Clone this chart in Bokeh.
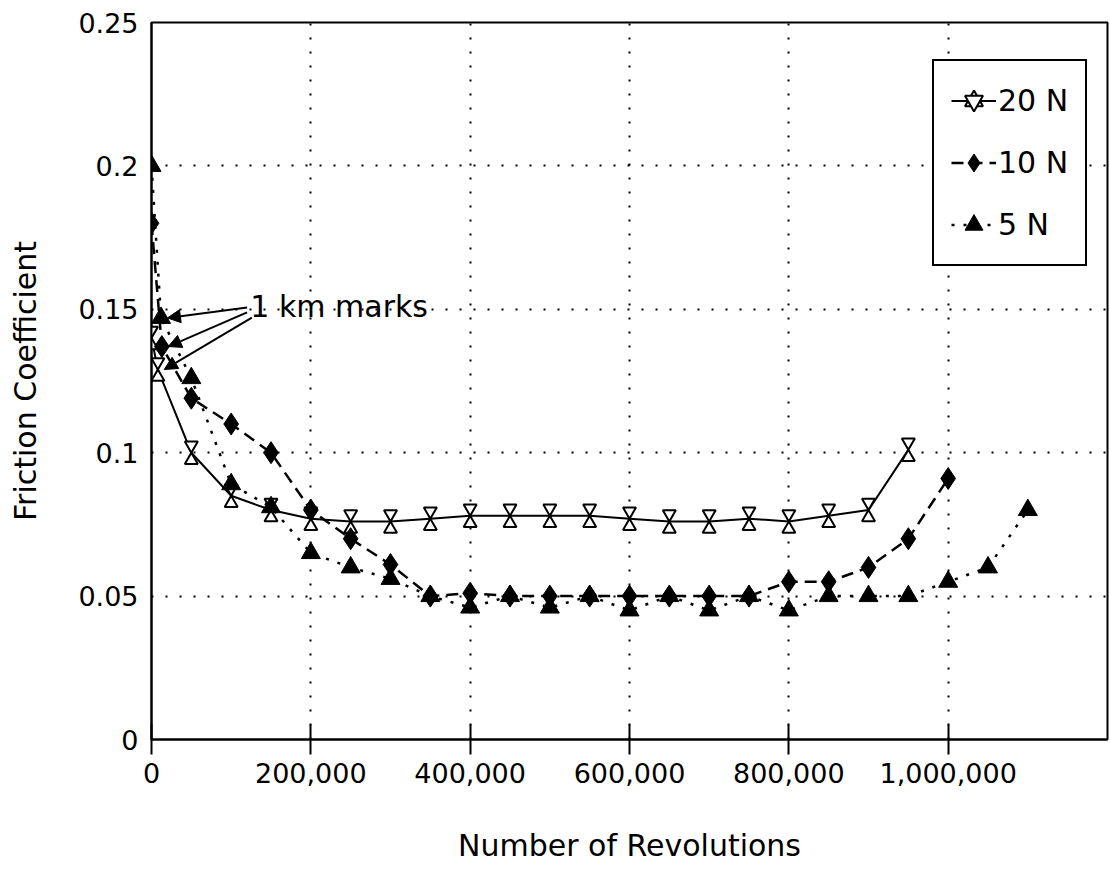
import math
from bokeh.plotting import figure
from bokeh.models import (FixedTicker, Legend, LegendItem, Label, Arrow, NormalHead,
                          ColumnDataSource, Range1d)
from bokeh.transform import dodge
from bokeh.embed import file_html
from bokeh.resources import INLINE

# ---------------- data ----------------
x_20n = [0, 8000, 50000, 100000, 150000, 200000, 250000, 300000, 350000, 400000, 450000,
         500000, 550000, 600000, 650000, 700000, 750000, 800000, 850000, 900000, 950000]
y_20n = [0.140, 0.129, 0.100, 0.085, 0.080, 0.077, 0.076, 0.076, 0.077, 0.078, 0.078,
         0.078, 0.078, 0.077, 0.076, 0.076, 0.077, 0.076, 0.078, 0.080, 0.101]

x_10n = [0, 13000, 50000, 100000, 150000, 200000, 250000, 300000, 350000, 400000, 450000,
         500000, 550000, 600000, 650000, 700000, 750000, 800000, 850000, 900000, 950000, 1000000]
y_10n = [0.180, 0.137, 0.119, 0.110, 0.100, 0.080, 0.070, 0.061, 0.050, 0.051, 0.050,
         0.050, 0.050, 0.050, 0.050, 0.050, 0.050, 0.055, 0.055, 0.060, 0.070, 0.091]

x_5n = [0, 12000, 50000, 100000, 150000, 200000, 250000, 300000, 350000, 400000, 450000,
        500000, 550000, 600000, 650000, 700000, 750000, 800000, 850000, 900000, 950000,
        1000000, 1050000, 1100000]
y_5n = [0.200, 0.147, 0.126, 0.089, 0.081, 0.065, 0.060, 0.056, 0.050, 0.046, 0.050,
        0.046, 0.050, 0.045, 0.050, 0.045, 0.050, 0.045, 0.050, 0.050, 0.050,
        0.055, 0.060, 0.080]

series_labels = ["20 N", "10 N", "5 N"]

x_ticks = [0, 200000, 400000, 600000, 800000, 1000000]
x_tick_labels = ["0", "200,000", "400,000", "600,000", "800,000", "1,000,000"]
y_ticks = [0, 0.05, 0.1, 0.15, 0.2, 0.25]
y_tick_labels = ["0", "0.05", "0.1", "0.15", "0.2", "0.25"]

x_title = "Number of Revolutions"
y_title = "Friction Coefficient"

km_label = "1 km marks"
km_label_x = 124000
km_label_y = 0.151
km_arrow_start_x = [120000, 120000, 126000]
km_arrow_start_y = [0.1506, 0.1489, 0.1471]
km_arrow_gap = 8000

# ---------------- figure ----------------
FONT = "DejaVu Sans"
W, H = 1110, 886
B_LEFT, B_RIGHT, B_TOP, B_BOTTOM = 151, 3, 22, 147
X_MAX, Y_MAX = 1200000, 0.25

p = figure(width=W, height=H, x_range=Range1d(0, X_MAX), y_range=Range1d(0, Y_MAX),
           output_backend="svg", toolbar_location=None,
           min_border_left=B_LEFT, min_border_right=B_RIGHT,
           min_border_top=B_TOP, min_border_bottom=B_BOTTOM)
p.background_fill_color = "white"
p.border_fill_color = "white"
p.outline_line_color = "black"
p.outline_line_width = 2
p.outline_line_alpha = 1.0

# axes
p.xaxis.ticker = FixedTicker(ticks=x_ticks)
p.xaxis.major_label_overrides = dict(zip(x_ticks, x_tick_labels))
p.yaxis.ticker = FixedTicker(ticks=y_ticks)
p.yaxis.major_label_overrides = dict(zip(y_ticks, y_tick_labels))
p.xaxis.axis_label = x_title
p.yaxis.axis_label = y_title

for ax in (p.xaxis[0], p.yaxis[0]):
    ax.axis_line_color = "black"
    ax.axis_line_width = 2
    ax.major_label_text_font = FONT
    ax.major_label_text_font_size = "27px"
    ax.major_label_text_color = "black"
    ax.axis_label_text_font = FONT
    ax.axis_label_text_font_size = "30px"
    ax.axis_label_text_font_style = "normal"
    ax.axis_label_text_color = "black"
    ax.minor_tick_line_color = None

p.xaxis.major_tick_in = 15
p.xaxis.major_tick_out = 15
p.xaxis.major_tick_line_width = 2
p.xaxis.major_tick_line_color = "black"
p.xaxis.major_label_standoff = 8
p.xaxis.axis_label_standoff = 42

p.yaxis.major_tick_in = 0
p.yaxis.major_tick_out = 0
p.yaxis.major_tick_line_color = None
p.yaxis.major_label_standoff = 13
p.yaxis.axis_label_standoff = 32

for g in (p.xgrid[0], p.ygrid[0]):
    g.grid_line_color = "black"
    g.grid_line_dash = "2 12"
    g.grid_line_width = 2

# ---------------- series ----------------
src20 = ColumnDataSource(dict(x=x_20n, y=y_20n))
src10 = ColumnDataSource(dict(x=x_10n, y=y_10n))
src5 = ColumnDataSource(dict(x=x_5n, y=y_5n))

l20 = p.line("x", "y", source=src20, line_color="black", line_width=2)
l10 = p.line("x", "y", source=src10, line_color="black", line_width=2.5, line_dash="12 7")
l5 = p.line("x", "y", source=src5, line_color="black", line_width=2.5, line_dash="3 9")

# hourglass = inverted triangle over upright triangle, apexes meeting at the data point
HG_SIZE = 13
px_per_unit = (H - B_TOP - B_BOTTOM) / Y_MAX
hg_off = (HG_SIZE / 2) * math.sqrt(3) * 2 / 3 / px_per_unit
hg_lo = p.scatter(x="x", y=dodge("y", -hg_off), source=src20, marker="triangle",
                  size=HG_SIZE, fill_color="white", line_color="black", line_width=2)
hg_hi = p.scatter(x="x", y=dodge("y", hg_off), source=src20, marker="inverted_triangle",
                  size=HG_SIZE, fill_color="white", line_color="black", line_width=2)

dm = p.scatter("x", "y", source=src10, marker="diamond", size=22,
               fill_color="black", line_color="black", line_width=1)

tri = p.scatter("x", "y", source=src5, marker="triangle", size=19,
                fill_color="black", line_color="black", line_width=1)

# ---------------- 1 km marks annotation ----------------
arrow_src = ColumnDataSource(dict(
    x0=km_arrow_start_x, y0=km_arrow_start_y,
    x1=[x_5n[1] + km_arrow_gap, x_10n[1] + km_arrow_gap, x_20n[1] + km_arrow_gap],
    y1=[y_5n[1], y_10n[1], y_20n[1]],
))
p.add_layout(Arrow(source=arrow_src, x_start="x0", y_start="y0", x_end="x1", y_end="y1",
                   end=NormalHead(size=13, fill_color="black", line_color="black", line_width=1),
                   line_color="black", line_width=2))
p.add_layout(Label(x=km_label_x, y=km_label_y, text=km_label, text_font=FONT,
                   text_font_size="30px", text_baseline="middle", text_align="left",
                   text_color="black"))

# ---------------- legend ----------------
legend = Legend(items=[
    LegendItem(label=series_labels[0], renderers=[l20, hg_lo, hg_hi]),
    LegendItem(label=series_labels[1], renderers=[l10, dm]),
    LegendItem(label=series_labels[2], renderers=[l5, tri]),
], location=(781, 473))
legend.label_text_font = FONT
legend.label_text_font_size = "30px"
legend.label_text_color = "black"
legend.glyph_width = 45
legend.glyph_height = 45
legend.label_height = 45
legend.label_standoff = 2
legend.spacing = 17
legend.padding = 17
legend.margin = 0
legend.border_line_color = "black"
legend.border_line_width = 2
legend.border_line_alpha = 1.0
legend.background_fill_color = "white"
legend.background_fill_alpha = 1.0
p.add_layout(legend)

open("out.html", "w").write(file_html(p, INLINE))
